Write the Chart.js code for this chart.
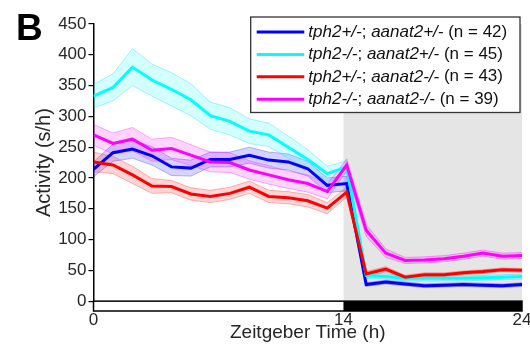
<!DOCTYPE html>
<html>
<head>
<meta charset="utf-8">
<script src="https://cdn.jsdelivr.net/npm/chart.js@4"></script>
<style>
  html, body { margin: 0; padding: 0; background: #fff; }
  #wrap { width: 530px; height: 344px; }
</style>
</head>
<body>
<div id="wrap"><canvas id="activity" width="530" height="344"></canvas></div>
<script>
// Panel text
const panelLetter = 'B';
const yAxisTitle = 'Activity (s/h)';
const xAxisTitle = 'Zeitgeber Time (h)';

// Axis ticks
const yTickValues = [0, 50, 100, 150, 200, 250, 300, 350, 400, 450];
const xTickValues = [0, 14, 24];
const lightsOffZT = 14;
const dayEndZT = 24;

// Mean activity per time bin (s/h), 23 bins spread over ZT0-ZT24
const blueMean    = [214, 241, 247, 236, 218, 216, 230, 230, 237, 229, 226, 215, 188, 191, 27, 31, 28, 25, 26, 27, 26, 25, 27];
const cyanMean    = [333, 347, 380, 359, 344, 327, 301, 292, 276, 270, 250, 230, 207, 218, 42, 40, 37, 37, 37, 37, 38, 39, 40];
const redMean     = [226, 221, 205, 187, 186, 174, 170, 175, 185, 170, 168, 163, 151, 177, 44, 52, 39, 43, 43, 46, 48, 51, 50];
const magentaMean = [270, 256, 263, 245, 248, 237, 226, 225, 213, 205, 197, 191, 178, 221, 115, 78, 66, 67, 69, 73, 78, 73, 74];

// Standard error of the mean per bin (s/h)
const blueSem    = [12, 14, 15, 15, 14, 13, 12, 12, 13, 13, 13, 12, 12, 12, 3, 3, 3, 3, 3, 3, 3, 3, 3];
const cyanSem    = [19, 22, 30, 26, 27, 26, 22, 22, 20, 19, 18, 16, 12, 10, 5, 4, 4, 4, 4, 4, 4, 4, 4];
const redSem     = [16, 14, 14, 12, 10, 10, 10, 10, 10, 10, 10, 10, 9, 8, 4, 4, 3, 3, 3, 3, 3, 3, 3];
const magentaSem = [17, 17, 19, 18, 18, 17, 16, 16, 15, 15, 14, 14, 12, 10, 10, 7, 5, 5, 5, 5, 5, 5, 5];

// Genotype legend entries
const genotypeA = ['tph2+/-', 'tph2-/-', 'tph2+/-', 'tph2-/-'];
const genotypeB = ['aanat2+/-', 'aanat2+/-', 'aanat2-/-', 'aanat2-/-'];
const larvaeCounts = [42, 45, 43, 39];

const FONT = '"Liberation Sans", Arial, Helvetica, sans-serif';

// Bin centres in ZT hours
const binZT = blueMean.map((_, i) => i * dayEndZT / (blueMean.length - 1));

const groups = [
  { mean: blueMean,    sem: blueSem,    color: '#0000ff', fillC: 'rgba(0,0,255,0.17)',   edge: 'rgba(0,0,255,0.35)',   z: 3 },
  { mean: cyanMean,    sem: cyanSem,    color: '#00ffff', fillC: 'rgba(0,255,255,0.17)', edge: 'rgba(0,220,255,0.45)', z: 2 },
  { mean: redMean,     sem: redSem,     color: '#ff0000', fillC: 'rgba(255,0,0,0.17)',   edge: 'rgba(255,0,0,0.35)',   z: 1 },
  { mean: magentaMean, sem: magentaSem, color: '#ff00ff', fillC: 'rgba(255,0,255,0.17)', edge: 'rgba(255,0,255,0.4)',  z: 0 }
];

const toPoints = arr => arr.map((v, i) => ({ x: binZT[i], y: v }));

const datasets = [];
groups.forEach((g, gi) => {
  datasets.push({
    label: 'upper' + gi,
    data: toPoints(g.mean.map((m, i) => m + g.sem[i])),
    borderColor: g.edge, borderWidth: 0.8, pointRadius: 0,
    backgroundColor: g.fillC, fill: '+1', order: 10 + g.z
  });
  datasets.push({
    label: 'lower' + gi,
    data: toPoints(g.mean.map((m, i) => m - g.sem[i])),
    borderColor: g.edge, borderWidth: 0.8, pointRadius: 0,
    fill: false, order: 10 + g.z
  });
});
groups.forEach((g, gi) => {
  datasets.push({
    label: 'mean' + gi,
    data: toPoints(g.mean),
    borderColor: g.color, borderWidth: 3, pointRadius: 0,
    fill: false, order: g.z
  });
});

// Dark-phase shading and the light/dark bar under the axis
const lightDarkPlugin = {
  id: 'lightDark',
  beforeDatasetsDraw(chart) {
    const { ctx, scales: { x, y } } = chart;
    const x0 = x.getPixelForValue(0);
    const xOff = x.getPixelForValue(lightsOffZT);
    const xEnd = x.getPixelForValue(dayEndZT);
    const yTop = y.getPixelForValue(yTickValues[yTickValues.length - 1]);
    const yZero = y.getPixelForValue(0);
    const yBot = y.getPixelForValue(y.min);
    ctx.save();
    ctx.fillStyle = '#e5e5e5';
    ctx.fillRect(xOff, yTop, xEnd - xOff, yZero - yTop);
    ctx.fillStyle = '#ffffff';
    ctx.fillRect(x0, yZero, xOff - x0, yBot - yZero);
    ctx.fillStyle = '#000000';
    ctx.fillRect(xOff, yZero, xEnd - xOff, yBot - yZero);
    ctx.strokeStyle = '#000000';
    ctx.lineWidth = 1.5;
    ctx.strokeRect(x0, yZero, xEnd - x0, yBot - yZero);
    ctx.restore();
  }
};

// Panel letter, y title and the genotype legend
const annotationPlugin = {
  id: 'annotations',
  afterDraw(chart) {
    const { ctx, scales: { y } } = chart;
    ctx.save();
    ctx.fillStyle = '#000';
    ctx.font = 'bold 37px ' + FONT;
    ctx.textAlign = 'left';
    ctx.textBaseline = 'alphabetic';
    ctx.fillText(panelLetter, 16, 39.5);

    const yMid = (y.getPixelForValue(0) + y.getPixelForValue(yTickValues[yTickValues.length - 1])) / 2;
    ctx.translate(50, yMid);
    ctx.rotate(-Math.PI / 2);
    ctx.font = '20px ' + FONT;
    ctx.fillStyle = '#262626';
    ctx.textAlign = 'center';
    ctx.fillText(yAxisTitle, 0, 0);
    ctx.restore();

    // legend box
    ctx.save();
    const bx = 250.7, by = 17, bw = 269.3, bh = 95.5;
    ctx.fillStyle = '#ffffff';
    ctx.fillRect(bx, by, bw, bh);
    ctx.strokeStyle = '#333333';
    ctx.lineWidth = 1.3;
    ctx.strokeRect(bx, by, bw, bh);
    ctx.textBaseline = 'middle';
    ctx.textAlign = 'left';
    groups.forEach((g, i) => {
      const ry = by + 15 + i * 22.4;
      ctx.strokeStyle = g.color;
      ctx.lineWidth = 3;
      ctx.beginPath();
      ctx.moveTo(256.7, ry);
      ctx.lineTo(304.3, ry);
      ctx.stroke();
      const parts = [
        [genotypeA[i], true],
        ['; ', false],
        [genotypeB[i], true],
        [' (n = ' + larvaeCounts[i] + ')', false]
      ];
      let tx = 308.3;
      ctx.fillStyle = '#111';
      parts.forEach(([txt, it]) => {
        ctx.font = (it ? 'italic ' : '') + '17px ' + FONT;
        ctx.fillText(txt, tx, ry);
        tx += ctx.measureText(txt).width;
      });
    });
    ctx.restore();
  }
};

new Chart(document.getElementById('activity'), {
  type: 'line',
  data: { datasets },
  options: {
    responsive: false,
    devicePixelRatio: 1,
    animation: false,
    layout: { padding: { top: 24, right: 8, bottom: 0, left: 0 } },
    plugins: { legend: { display: false }, tooltip: { enabled: false } },
    elements: { line: { tension: 0 } },
    scales: {
      x: {
        type: 'linear',
        min: 0,
        max: dayEndZT,
        grid: { display: false, drawTicks: false },
        border: { display: false },
        afterBuildTicks: s => { s.ticks = xTickValues.map(v => ({ value: v })); },
        afterFit: s => { s.height = 33; s.paddingLeft = 0; s.paddingRight = 0; },
        ticks: { color: '#262626', font: { family: FONT, size: 17 }, padding: -1, maxRotation: 0 },
        title: { display: true, text: xAxisTitle, color: '#262626', font: { family: FONT, size: 19 }, padding: { top: 0, bottom: 0 } }
      },
      y: {
        type: 'linear',
        min: -16,
        max: 450,
        grid: { drawOnChartArea: false, drawTicks: true, tickLength: 5, color: '#000', lineWidth: 1.2 },
        border: { display: true, color: '#000', width: 1.5 },
        afterBuildTicks: s => { s.ticks = yTickValues.map(v => ({ value: v })); },
        afterFit: s => { s.width = 93.5; s.paddingTop = 0; s.paddingBottom = 0; },
        ticks: { color: '#262626', font: { family: FONT, size: 17 }, padding: 2 }
      }
    }
  },
  plugins: [lightDarkPlugin, annotationPlugin]
});
</script>
</body>
</html>
